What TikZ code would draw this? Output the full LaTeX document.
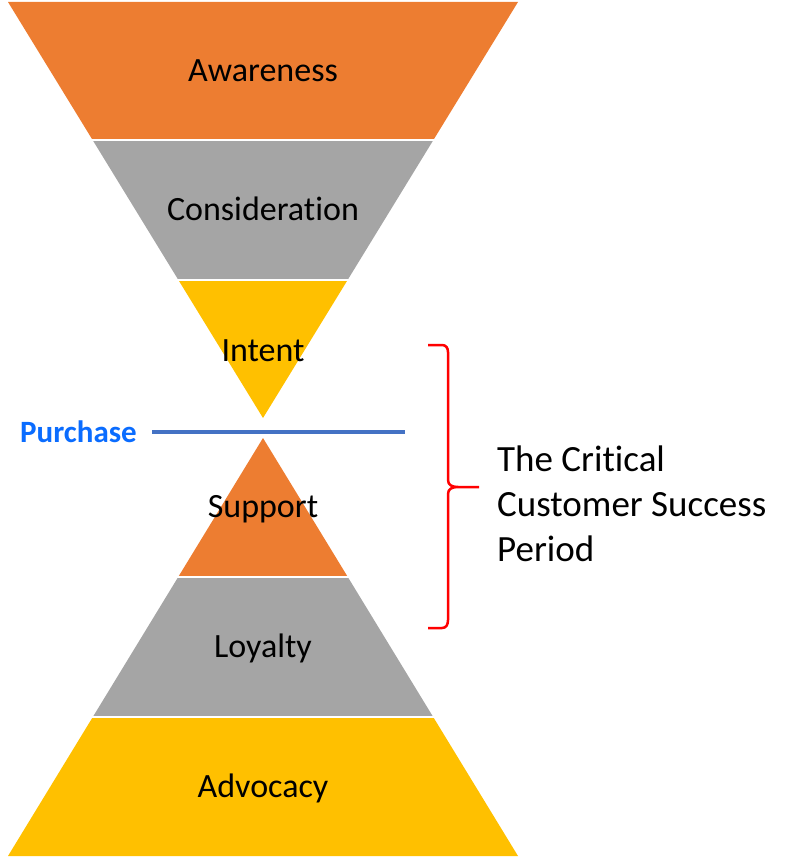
\documentclass[tikz,border=0pt]{standalone}
\usepackage{fontspec}
\setmainfont{Carlito}[Ligatures={NoCommon}]
\definecolor{orng}{HTML}{ED7D31}
\definecolor{gry}{HTML}{A5A5A5}
\definecolor{ylw}{HTML}{FFC000}
\definecolor{lineblue}{HTML}{4472C4}
\definecolor{buyblue}{HTML}{0A6CFF}
\tikzset{lbl/.style={inner sep=0pt,anchor=base,font=\fontsize{34}{41}\selectfont},
  sidetxt/.style={inner sep=0pt,anchor=base west,font=\fontsize{37}{45}\selectfont}}
\begin{document}
\begin{tikzpicture}[x=1pt,y=-1pt]
\useasboundingbox(0,0)rectangle(809,858);
\foreach \ya/\yb/\wa/\wb/\c in {2/140/255/170.4/orng,140/280/170.4/84.6/gry,280/418/84.6/0/ylw,438/577/0/84.8/orng,577/717/84.8/170.2/gry,717/856/170.2/255/ylw}
  \fill[\c](263-\wa,\ya)--(263+\wa,\ya)--(263+\wb,\yb)--(263-\wb,\yb)--cycle;
\foreach \y in {140,280,577,717}
  \draw[white,line width=2pt](60,\y)--(470,\y);
\foreach \n/\y/\t in {aware/82/Awareness,consid/221/Consideration,intent/361/Intent,support/517/Support,loyal/657/Loyalty,advoc/797/Advocacy}
  \node[lbl](\n)at(263,\y){\t};
\coordinate(buyL)at(152,432);
\coordinate(buyR)at(405,432);
\draw[lineblue,line width=3.5pt](buyL)--(buyR);
\node[inner sep=0pt,anchor=base west,text=buyblue,font=\bfseries\fontsize{31}{37}\selectfont](purchase)at(20,442){Purchase};
\coordinate(brTop)at(428,345);
\coordinate(brTip)at(479,487);
\coordinate(brBot)at(428,628);
\draw[red,line width=2.5pt](brTop)--(442,345)..controls(446,345)and(448,348)..(448,352)--(448,480)
  ..controls(448,485)and(452,487)..(458,487)--(brTip)
  (458,487)..controls(452,487)and(448,489)..(448,494)--(448,620)..controls(448,625)and(446,628)..(442,628)--(brBot);
\node[sidetxt](crit1)at(497,471){The Critical};
\node[sidetxt](crit2)at(497,516){Customer Success};
\node[sidetxt](crit3)at(497,561){Period};
\end{tikzpicture}
\end{document}
